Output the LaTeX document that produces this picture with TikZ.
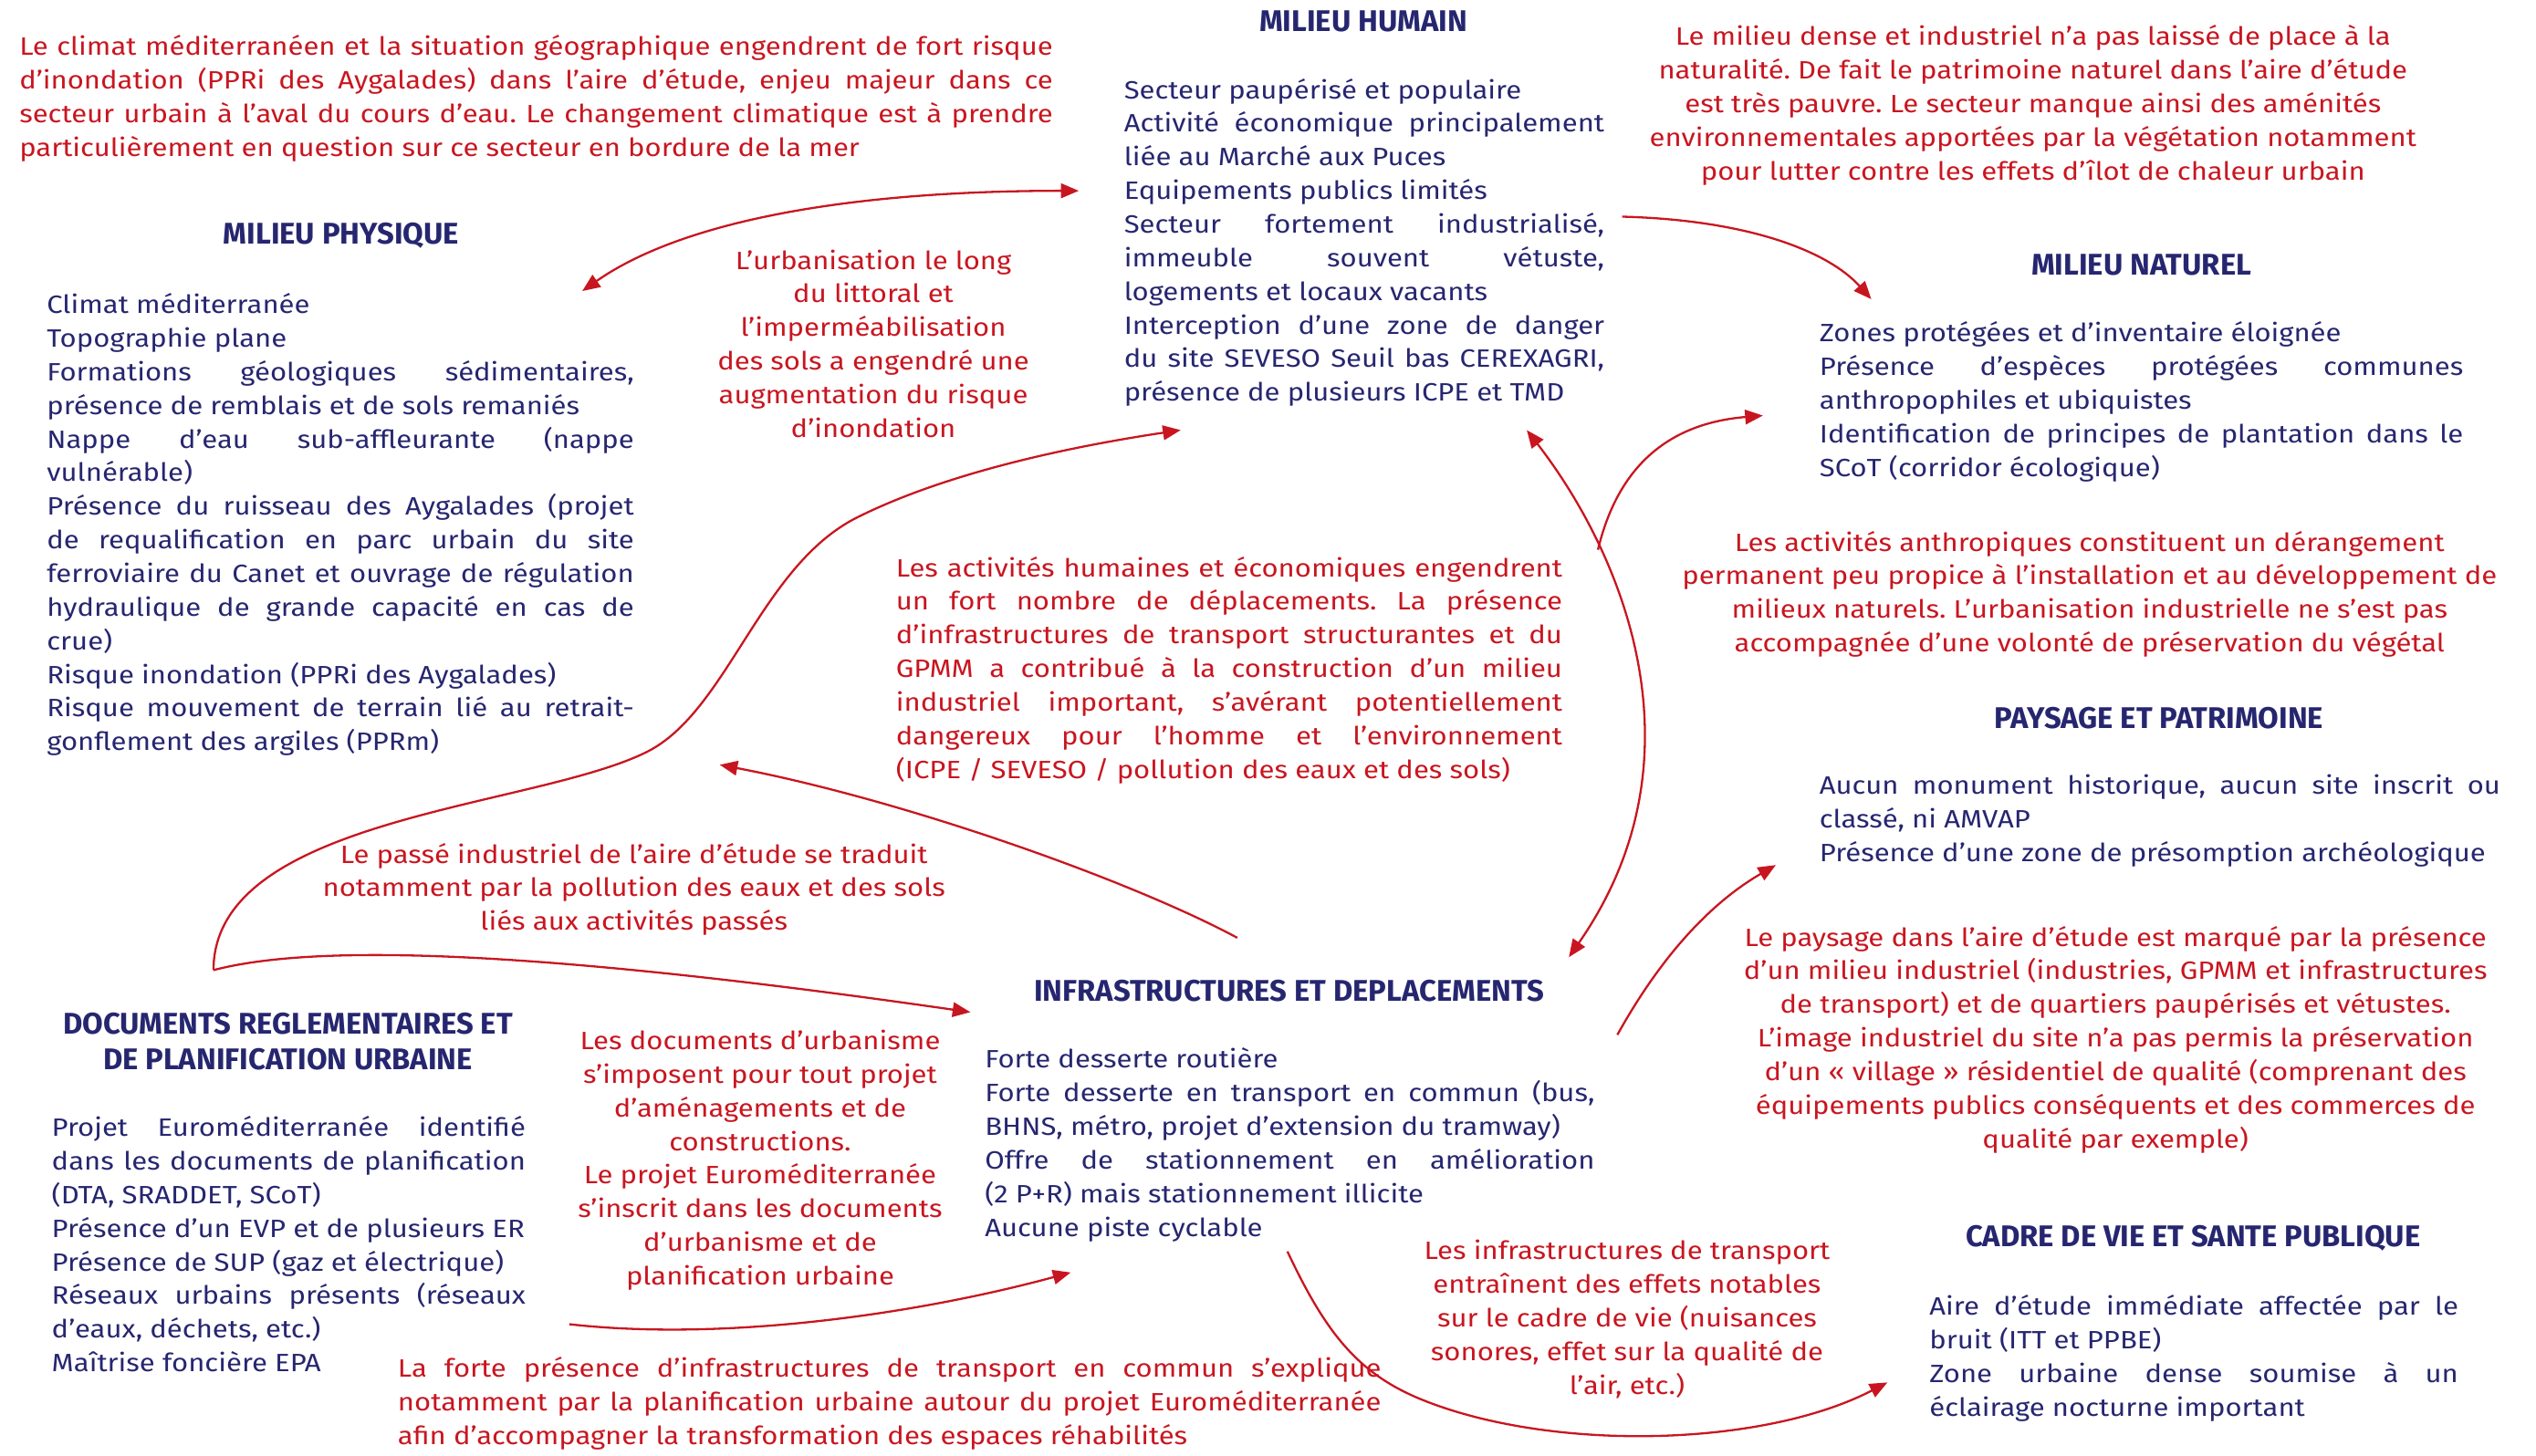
\documentclass[tikz,border=0pt]{standalone}
\usepackage{fontspec}
\setmainfont{Fira Sans}[FakeStretch=1.13]
\newfontfamily\hfont{Fira Sans}
\usetikzlibrary{arrows.meta}
\definecolor{navy}{RGB}{38,38,112}
\definecolor{rouge}{RGB}{200,22,32}
\newcommand\nohy{\hyphenpenalty=10000\relax}
\frenchspacing
\begin{document}
\begin{tikzpicture}[x=1pt,y=-1pt,
  every node/.style={inner sep=0pt, outer sep=0pt},
  body/.style={font=\fontsize{15.5}{20.8}\selectfont},
  listtxt/.style={body, text=navy, align=justify},
  redc/.style={body, text=rouge, align=center},
  redj/.style={body, text=rouge, align=justify},
  head/.style={font=\hfont\fontsize{18.5}{21.8}\selectfont\bfseries, text=navy, align=center},
  lien/.style={draw=rouge, line width=1.3pt},
  >={Triangle[length=11pt,width=9pt]}]
\useasboundingbox (0,0) rectangle (1568,900);

% ---------- texts ----------
\node[redj, text width=639pt] (intro) at (331.5,61) {\nohy Le climat méditerranéen et la situation géographique engendrent de fort risque\linebreak d’inondation (PPRi des Aygalades) dans l’aire d’étude, enjeu majeur dans ce\linebreak secteur urbain à l’aval du cours d’eau. Le changement climatique est à prendre\linebreak particulièrement en question sur ce secteur en bordure de la mer};

\node[head] (hphys) at (211,146) {MILIEU PHYSIQUE};
\node[listtxt, text width=363pt] (phys) at (210.5,324.5) {\nohy Climat méditerranée\par
Topographie plane\par
Formations géologiques sédimentaires,\linebreak présence de remblais et de sols remaniés\par
Nappe d’eau sub-affleurante (nappe\linebreak vulnérable)\par
Présence du ruisseau des Aygalades (projet\linebreak de requalification en parc urbain du site\linebreak ferroviaire du Canet et ouvrage de régulation\linebreak hydraulique de grande capacité en cas de\linebreak crue)\par
Risque inondation (PPRi des Aygalades)\par
Risque mouvement de terrain lié au retrait-\linebreak gonflement des argiles (PPRm)};

\node[redc] (urb) at (540,212.5) {L’urbanisation le long\\du littoral et\\l’imperméabilisation\\des sols a engendré une\\augmentation du risque\\d’inondation};

\node[head] (hhum) at (843,13) {MILIEU HUMAIN};
\node[listtxt, text width=297pt] (hum) at (843.5,150) {\nohy Secteur paupérisé et populaire\par
Activité économique principalement\linebreak liée au Marché aux Puces\par
Equipements publics limités\par
Secteur fortement industrialisé,\linebreak immeuble souvent vétuste,\linebreak logements et locaux vacants\par
Interception d’une zone de danger\linebreak du site SEVESO Seuil bas CEREXAGRI,\linebreak présence de plusieurs ICPE et TMD};

\node[redc] (dense) at (1257,65) {Le milieu dense et industriel n’a pas laissé de place à la\\naturalité. De fait le patrimoine naturel dans l’aire d’étude\\est très pauvre. Le secteur manque ainsi des aménités\\environnementales apportées par la végétation notamment\\pour lutter contre les effets d’îlot de chaleur urbain};

\node[head] (hnat) at (1324,164) {MILIEU NATUREL};
\node[listtxt, text width=398pt] (nat) at (1324,248.5) {\nohy Zones protégées et d’inventaire éloignée\par
Présence d’espèces protégées communes\linebreak anthropophiles et ubiquistes\par
Identification de principes de plantation dans le\linebreak SCoT (corridor écologique)};

\node[redc] (anthro) at (1292,367.5) {Les activités anthropiques constituent un dérangement\\permanent peu propice à l’installation et au développement de\\milieux naturels. L’urbanisation industrielle ne s’est pas\\accompagnée d’une volonté de préservation du végétal};

\node[head] (hpay) at (1335,444) {PAYSAGE ET PATRIMOINE};
\node[listtxt, text width=421pt] (pay) at (1335.5,507.5) {\nohy Aucun monument historique, aucun site inscrit ou\linebreak classé, ni AMVAP\par
Présence d’une zone de présomption archéologique};

\node[redc] (paysage) at (1308,643) {Le paysage dans l’aire d’étude est marqué par la présence\\d’un milieu industriel (industries, GPMM et infrastructures\\de transport) et de quartiers paupérisés et vétustes.\\L’image industriel du site n’a pas permis la préservation\\d’un «~village~» résidentiel de qualité (comprenant des\\équipements publics conséquents et des commerces de\\qualité par exemple)};

\node[head] (hcad) at (1356,766) {CADRE DE VIE ET SANTE PUBLIQUE};
\node[listtxt, text width=327pt] (cad) at (1356.5,840) {\nohy Aire d’étude immédiate affectée par le\linebreak bruit (ITT et PPBE)\par
Zone urbaine dense soumise à un\linebreak éclairage nocturne important};

\node[redc] (nuis) at (1006,816) {Les infrastructures de transport\\entraînent des effets notables\\sur le cadre de vie (nuisances\\sonores, effet sur la qualité de\\l’air, etc.)};

\node[head] (hinf) at (797,613) {INFRASTRUCTURES ET DEPLACEMENTS};
\node[listtxt, text width=377pt] (inf) at (797.5,708) {\nohy Forte desserte routière\par
Forte desserte en transport en commun (bus,\linebreak BHNS, métro, projet d’extension du tramway)\par
Offre de stationnement en amélioration\linebreak (2 P+R) mais stationnement illicite\par
Aucune piste cyclable};

\node[redj, text width=412pt] (act) at (760,414.5) {\nohy Les activités humaines et économiques engendrent\linebreak un fort nombre de déplacements. La présence\linebreak d’infrastructures de transport structurantes et du\linebreak GPMM a contribué à la construction d’un milieu\linebreak industriel important, s’avérant potentiellement\linebreak dangereux pour l’homme et l’environnement\linebreak (ICPE / SEVESO / pollution des eaux et des sols)};

\node[redc] (passe) at (392,550) {Le passé industriel de l’aire d’étude se traduit\\notamment par la pollution des eaux et des sols\\liés aux activités passés};

\node[head] (hdoc) at (178,644) {DOCUMENTS REGLEMENTAIRES ET\\DE PLANIFICATION URBAINE};
\node[listtxt, text width=293pt] (doc) at (178.5,769.5) {\nohy Projet Euroméditerranée identifié\linebreak dans les documents de planification\linebreak (DTA, SRADDET, SCoT)\par
Présence d’un EVP et de plusieurs ER\par
Présence de SUP (gaz et électrique)\par
Réseaux urbains présents (réseaux\linebreak d’eaux, déchets, etc.)\par
Maîtrise foncière EPA};

\node[redc] (urbdoc) at (470,717.5) {Les documents d’urbanisme\\s’imposent pour tout projet\\d’aménagements et de\\constructions.\\Le projet Euroméditerranée\\s’inscrit dans les documents\\d’urbanisme et de\\planification urbaine};

\node[redj, text width=608pt] (forte) at (550,868) {\nohy La forte présence d’infrastructures de transport en commun s’explique\linebreak notamment par la planification urbaine autour du projet Euroméditerranée\linebreak afin d’accompagner la transformation des espaces réhabilités};

% ---------- connector ends ----------
\coordinate (c1a) at (360,180);  \coordinate (c1b) at (667,118);
\coordinate (c2a) at (1003,134); \coordinate (c2b) at (1157,185);
\coordinate (dtop) at (132,600);
\coordinate (c3b) at (730,266);
\coordinate (c4a) at (765,580);  \coordinate (c4b) at (445,473);
\coordinate (c5b) at (600,626);
\coordinate (c6a) at (944,266);  \coordinate (c6b) at (970,592);
\coordinate (c7a) at (988,340);  \coordinate (c7b) at (1090,257);
\coordinate (c8a) at (1000,640); \coordinate (c8b) at (1098,535);
\coordinate (c9a) at (352,819);  \coordinate (c9b) at (662,787);
\coordinate (c10a) at (796,774); \coordinate (c10b) at (1167,855);

% ---------- connectors ----------
\draw[lien,<->] (c1a) .. controls (420,138) and (520,118) .. (c1b);
\draw[lien,->] (c2a) .. controls (1080,136) and (1130,155) .. (c2b);
\draw[lien,->] (dtop) .. controls (132,505) and (330,500) .. (400,465)
  .. controls (450,440) and (470,350) .. (530,320)
  .. controls (580,295) and (650,278) .. (c3b);
\draw[lien,->] (c4a) .. controls (700,545) and (560,495) .. (c4b);
\draw[lien,->] (dtop) .. controls (200,582) and (350,590) .. (c5b);
\draw[lien,<->] (c6a) .. controls (1005,345) and (1055,470) .. (c6b);
\draw[lien,->] (c7a) .. controls (1000,290) and (1030,262) .. (c7b);
\draw[lien,->] (c8a) .. controls (1025,595) and (1055,560) .. (c8b);
\draw[lien,->] (c9a) .. controls (450,830) and (570,812) .. (c9b);
\draw[lien,->] (c10a) .. controls (820,825) and (840,850) .. (880,866)
  .. controls (960,898) and (1090,895) .. (c10b);
\end{tikzpicture}
\end{document}
